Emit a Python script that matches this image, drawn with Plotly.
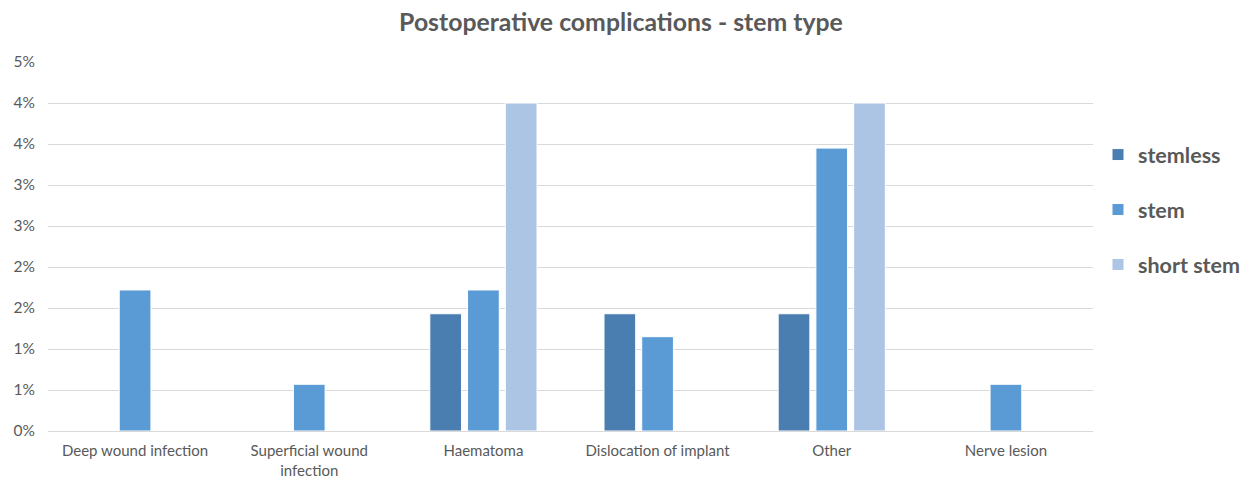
import plotly.graph_objects as go

categories = [
    "Deep wound infection",
    "Superficial wound<br>infection",
    "Haematoma",
    "Dislocation of implant",
    "Other",
    "Nerve lesion",
]

# complication rates in percent (None = no case)
stemless = [None, None, 1.43, 1.43, 1.43, None]
stem = [1.72, 0.57, 1.72, 1.15, 3.45, 0.57]
short_stem = [None, None, 4.0, None, 4.0, None]

tick_values = [0, 0.5, 1.0, 1.5, 2.0, 2.5, 3.0, 3.5, 4.0, 4.5]
tick_labels = ["0%", "1%", "1%", "2%", "2%", "3%", "3%", "4%", "4%", "5%"]

series = [
    ("stemless", stemless, "#4a7eb0"),
    ("stem", stem, "#5b9bd5"),
    ("short stem", short_stem, "#adc5e5"),
]

fig = go.Figure()
for name, values, color in series:
    fig.add_trace(go.Bar(
        x=categories,
        y=values,
        name=name,
        legendgroup=name,
        marker=dict(color=color, line=dict(color="white", width=1)),
    ))

grey = "#595959"
W, H = 1246, 479
left, right_edge = 48, 1093

fig.update_layout(
    width=W,
    height=H,
    margin=dict(l=left, r=0, t=62, b=48, autoexpand=False),
    paper_bgcolor="white",
    plot_bgcolor="white",
    barmode="group",
    bargap=0.35,
    bargroupgap=0.16,
    font=dict(family="Lato, Open Sans, sans-serif", color=grey, size=15.5),
    title=dict(
        text="<b>Postoperative complications - stem type</b>",
        x=621 / W, xref="container", xanchor="center",
        y=1 - 22 / H, yref="container", yanchor="middle",
        font=dict(size=24.8, color=grey),
    ),
    xaxis=dict(
        domain=[0, (right_edge - left) / (W - left)],
        automargin=False,
        showgrid=False,
        showline=False,
        ticks="",
        ticklabelstandoff=9,
        tickfont=dict(size=15, color=grey),
    ),
    yaxis=dict(
        range=[0, 4.5],
        automargin=False,
        tickvals=tick_values,
        ticktext=tick_labels,
        showgrid=True,
        gridcolor="#d9d9d9",
        gridwidth=1,
        zeroline=True,
        zerolinecolor="#d9d9d9",
        zerolinewidth=1,
        showline=False,
        ticks="",
        ticklabelstandoff=12,
        tickfont=dict(size=15.5, color=grey),
    ),
    legend=dict(
        x=(1098 - left) / (W - left), xanchor="left",
        y=0.6, yanchor="middle",
        traceorder="grouped",
        tracegroupgap=24,
        font=dict(size=21.5, color=grey, family="Lato, Open Sans, sans-serif", weight="bold"),
        itemwidth=30,
    ),
)

fig.write_html("out.html")
